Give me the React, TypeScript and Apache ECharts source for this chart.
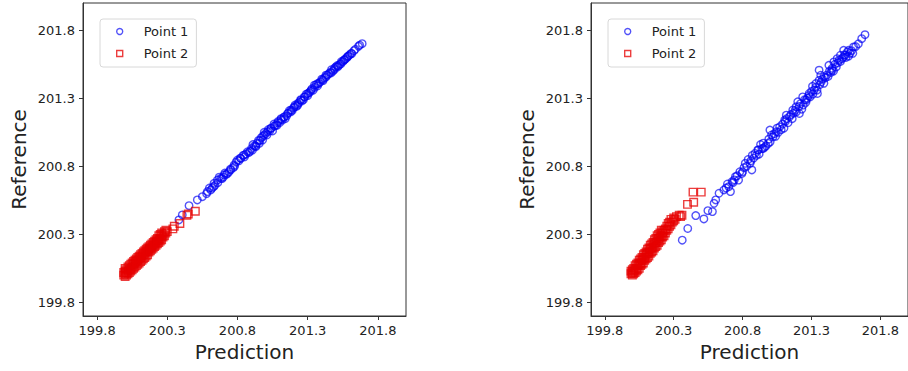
import React, { useEffect, useRef } from "react";
import * as echarts from "echarts";

const tickValues = [199.8, 200.3, 200.8, 201.3, 201.8];
const seriesNames = ["Point 1", "Point 2"];
const xAxisTitle = "Prediction";
const yAxisTitle = "Reference";

// Left panel: Point 1 (blue circles)
const leftPoint1: [number, number][] = [
  [201.688, 201.701], [201.662, 201.682], [201.614, 201.628], [201.586, 201.608],
  [201.562, 201.584], [201.538, 201.555], [201.514, 201.530], [201.490, 201.511],
  [201.467, 201.486], [201.431, 201.457], [201.407, 201.437], [201.371, 201.408],
  [201.348, 201.396], [201.324, 201.359], [201.300, 201.335], [201.276, 201.310],
  [201.252, 201.286], [201.229, 201.261], [201.205, 201.237], [201.181, 201.213],
  [201.157, 201.188], [201.133, 201.164], [201.110, 201.144], [201.086, 201.120],
  [201.062, 201.095], [201.038, 201.078], [201.014, 201.054], [200.990, 201.029],
  [200.979, 200.993], [200.955, 200.968], [200.931, 200.944], [200.907, 200.919],
  [200.871, 200.907], [200.848, 200.883], [200.824, 200.858], [200.800, 200.846],
  [200.776, 200.809], [200.752, 200.773], [200.729, 200.748], [200.705, 200.736],
  [200.681, 200.712], [200.657, 200.699], [200.633, 200.675], [200.610, 200.626],
  [200.586, 200.614], [200.550, 200.577], [200.514, 200.553], [200.455, 200.511],
  [200.407, 200.443], [200.383, 200.406],
  [200.62, 200.64], [200.64, 200.66], [200.70, 200.72], [200.74, 200.76],
  [200.78, 200.80], [200.85, 200.87], [200.88, 200.90], [200.92, 200.95],
  [200.96, 200.99], [201.00, 201.04], [201.03, 201.06], [201.07, 201.10],
  [201.12, 201.14], [201.15, 201.17], [201.19, 201.21], [201.23, 201.25],
  [201.27, 201.29], [201.31, 201.34], [201.35, 201.38], [201.39, 201.42],
  [201.44, 201.47], [201.48, 201.50], [201.52, 201.54], [201.55, 201.57],
  [201.59, 201.61], [201.63, 201.65],
  [200.58, 200.60], [200.60, 200.64], [200.63, 200.65], [200.66, 200.68],
  [200.67, 200.72], [200.69, 200.71], [200.71, 200.75], [200.72, 200.74],
  [200.75, 200.78], [200.77, 200.79], [200.79, 200.83], [200.81, 200.84],
  [200.82, 200.86], [200.84, 200.88], [200.86, 200.89], [200.89, 200.91],
  [200.90, 200.93], [200.91, 200.96], [200.93, 200.95], [200.94, 200.97],
  [200.95, 200.99], [200.97, 201.01], [200.98, 201.02], [200.99, 201.05],
  [201.01, 201.03], [201.02, 201.07], [201.04, 201.08], [201.05, 201.06],
  [201.06, 201.11], [201.08, 201.10], [201.09, 201.13], [201.10, 201.12],
  [201.11, 201.15], [201.13, 201.16], [201.14, 201.15], [201.16, 201.19],
  [201.17, 201.21], [201.18, 201.20], [201.20, 201.23], [201.21, 201.25],
  [201.22, 201.24], [201.24, 201.27], [201.25, 201.29], [201.26, 201.28],
  [201.28, 201.31], [201.29, 201.33], [201.30, 201.32], [201.32, 201.35],
  [201.33, 201.37], [201.34, 201.36], [201.36, 201.40], [201.37, 201.39],
  [201.38, 201.41], [201.40, 201.44], [201.41, 201.43], [201.42, 201.45],
  [201.43, 201.47], [201.45, 201.48], [201.46, 201.49], [201.47, 201.51],
  [201.49, 201.52], [201.50, 201.53], [201.51, 201.54], [201.53, 201.55],
  [201.54, 201.57], [201.56, 201.58], [201.57, 201.59], [201.58, 201.60],
  [201.60, 201.62], [201.61, 201.63], [201.64, 201.66], [201.67, 201.69],
];

// Left panel: Point 2 (red squares)
const leftPoint2: [number, number][] = [
  [199.99, 200.00], [199.99, 200.02],
  [200.00, 199.99], [200.00, 200.01], [200.00, 200.03], [200.00, 200.05],
  [200.01, 200.00], [200.01, 200.02], [200.01, 200.04],
  [200.02, 200.01], [200.02, 200.03], [200.02, 200.06],
  [200.03, 200.02], [200.03, 200.04], [200.03, 200.07],
  [200.04, 200.03], [200.04, 200.05], [200.04, 200.08],
  [200.05, 200.04], [200.05, 200.06], [200.05, 200.09],
  [200.06, 200.05], [200.06, 200.08], [200.06, 200.10],
  [200.07, 200.06], [200.07, 200.09], [200.07, 200.11],
  [200.08, 200.07], [200.08, 200.10], [200.08, 200.12],
  [200.09, 200.08], [200.09, 200.11], [200.09, 200.13],
  [200.10, 200.09], [200.10, 200.12], [200.10, 200.14],
  [200.11, 200.10], [200.11, 200.13], [200.11, 200.15],
  [200.12, 200.11], [200.12, 200.14], [200.12, 200.16],
  [200.13, 200.12], [200.13, 200.15], [200.13, 200.17],
  [200.14, 200.13], [200.14, 200.16], [200.14, 200.18],
  [200.15, 200.14], [200.15, 200.17], [200.15, 200.19],
  [200.16, 200.15], [200.16, 200.18], [200.16, 200.20],
  [200.17, 200.17], [200.17, 200.19], [200.17, 200.21],
  [200.18, 200.18], [200.18, 200.20], [200.18, 200.22],
  [200.19, 200.19], [200.19, 200.21], [200.19, 200.23],
  [200.20, 200.20], [200.20, 200.22], [200.20, 200.24],
  [200.21, 200.21], [200.21, 200.23], [200.21, 200.25],
  [200.22, 200.22], [200.22, 200.24], [200.22, 200.26],
  [200.23, 200.23], [200.23, 200.25], [200.23, 200.27],
  [200.24, 200.24], [200.24, 200.26], [200.24, 200.29],
  [200.25, 200.25], [200.25, 200.27], [200.25, 200.30],
  [200.26, 200.26], [200.26, 200.29], [200.26, 200.31],
  [200.27, 200.28], [200.27, 200.30],
  [200.28, 200.29], [200.28, 200.32],
  [200.29, 200.31], [200.29, 200.33],
  [200.30, 200.32],
  [200.34, 200.34], [200.35, 200.36], [200.39, 200.38], [200.44, 200.44],
  [200.45, 200.45], [200.50, 200.47],
];

// Right panel: Point 1 (blue circles)
const rightPoint1: [number, number][] = [
  [200.362, 200.257], [200.402, 200.343], [200.460, 200.438], [200.519, 200.413],
  [200.548, 200.474], [200.581, 200.467], [200.593, 200.528], [200.629, 200.602],
  [200.605, 200.553], [200.664, 200.626], [200.700, 200.650], [200.724, 200.687],
  [200.712, 200.614], [200.748, 200.724], [200.771, 200.699], [200.795, 200.748],
  [200.819, 200.822], [200.855, 200.822], [200.867, 200.773], [200.890, 200.895],
  [200.914, 200.919], [200.950, 200.931], [200.986, 200.968], [200.998, 201.066],
  [201.021, 201.017], [201.045, 201.054], [201.069, 201.090], [201.105, 201.139],
  [201.117, 201.176], [201.140, 201.164], [201.164, 201.213], [201.188, 201.237],
  [201.212, 201.188], [201.200, 201.274], [201.236, 201.310], [201.260, 201.286],
  [201.283, 201.335], [201.307, 201.388], [201.343, 201.335], [201.331, 201.408],
  [201.355, 201.432], [201.367, 201.469], [201.355, 201.506], [201.390, 201.457],
  [201.426, 201.542], [201.450, 201.506], [201.462, 201.567], [201.486, 201.591],
  [201.510, 201.616], [201.533, 201.652], [201.545, 201.616], [201.569, 201.652],
  [201.605, 201.677], [201.664, 201.738], [201.688, 201.767],
  [200.93, 200.96], [200.96, 200.94], [201.03, 201.04], [201.08, 201.07],
  [201.12, 201.15], [201.17, 201.19], [201.23, 201.22], [201.27, 201.30],
  [201.32, 201.36], [201.40, 201.45], [201.44, 201.49], [201.48, 201.53],
  [201.52, 201.59], [201.58, 201.63], [200.68, 200.64], [200.74, 200.70],
  [200.80, 200.76], [200.84, 200.85], [200.88, 200.86],
  [200.69, 200.67], [200.73, 200.68], [200.76, 200.73], [200.78, 200.76],
  [200.81, 200.79], [200.83, 200.80], [200.86, 200.84], [200.87, 200.88],
  [200.90, 200.88], [200.91, 200.92], [200.92, 200.89], [200.94, 200.93],
  [200.95, 200.97], [200.97, 200.95], [200.99, 201.00], [201.00, 200.98],
  [201.01, 201.03], [201.04, 201.02], [201.05, 201.08], [201.06, 201.05],
  [201.09, 201.11], [201.10, 201.08], [201.11, 201.13], [201.13, 201.12],
  [201.15, 201.18], [201.16, 201.15], [201.18, 201.21], [201.19, 201.20],
  [201.21, 201.24], [201.22, 201.26], [201.24, 201.25], [201.25, 201.29],
  [201.26, 201.27], [201.28, 201.32], [201.29, 201.31], [201.30, 201.35],
  [201.31, 201.33], [201.33, 201.38], [201.34, 201.36], [201.36, 201.40],
  [201.37, 201.42], [201.38, 201.44], [201.39, 201.41], [201.41, 201.47],
  [201.42, 201.46], [201.43, 201.50], [201.45, 201.52], [201.46, 201.50],
  [201.47, 201.55], [201.49, 201.56], [201.50, 201.58], [201.51, 201.57],
  [201.53, 201.60], [201.54, 201.62], [201.55, 201.60], [201.56, 201.64],
  [201.57, 201.61], [201.59, 201.65], [201.60, 201.63], [201.62, 201.68],
  [201.64, 201.70],
];

// Right panel: Point 2 (red squares)
const rightPoint2: [number, number][] = [
  [199.99, 200.01], [199.99, 200.03],
  [200.00, 200.00], [200.00, 200.02], [200.00, 200.04],
  [200.01, 200.01], [200.01, 200.03], [200.01, 200.05],
  [200.02, 200.02], [200.02, 200.04], [200.02, 200.07],
  [200.03, 200.03], [200.03, 200.05], [200.03, 200.08],
  [200.04, 200.04], [200.04, 200.07], [200.04, 200.09],
  [200.05, 200.05], [200.05, 200.08], [200.05, 200.11],
  [200.06, 200.07], [200.06, 200.09], [200.06, 200.12],
  [200.07, 200.08], [200.07, 200.11], [200.07, 200.13],
  [200.08, 200.09], [200.08, 200.12], [200.08, 200.15],
  [200.09, 200.11], [200.09, 200.13], [200.09, 200.16],
  [200.10, 200.12], [200.10, 200.15], [200.10, 200.17],
  [200.11, 200.13], [200.11, 200.16], [200.11, 200.19],
  [200.12, 200.14], [200.12, 200.17], [200.12, 200.20],
  [200.13, 200.16], [200.13, 200.19], [200.13, 200.22],
  [200.14, 200.17], [200.14, 200.20], [200.14, 200.23],
  [200.15, 200.18], [200.15, 200.21], [200.15, 200.24],
  [200.16, 200.20], [200.16, 200.23], [200.16, 200.26],
  [200.17, 200.21], [200.17, 200.24], [200.17, 200.27],
  [200.18, 200.22], [200.18, 200.25], [200.18, 200.29],
  [200.19, 200.24], [200.19, 200.27], [200.19, 200.30],
  [200.20, 200.25], [200.20, 200.28], [200.20, 200.31],
  [200.21, 200.26], [200.21, 200.29], [200.21, 200.33],
  [200.22, 200.28], [200.22, 200.31], [200.22, 200.32],
  [200.23, 200.29], [200.23, 200.33],
  [200.24, 200.31], [200.24, 200.34],
  [200.25, 200.33], [200.25, 200.36],
  [200.26, 200.34], [200.26, 200.38],
  [200.27, 200.36], [200.27, 200.39],
  [200.28, 200.37], [200.28, 200.41],
  [200.29, 200.39],
  [200.30, 200.40], [200.30, 200.42],
  [200.31, 200.41], [200.32, 200.43], [200.35, 200.43],
  [200.34, 200.44], [200.36, 200.44], [200.40, 200.52], [200.445, 200.536],
  [200.44, 200.61], [200.50, 200.61],
];

const FONT = "DejaVu Sans";
const BLUE = "rgba(0,0,245,0.85)";
const RED = "rgba(230,0,0,0.95)";
const FRAME = "#333333";
const TEXT = "#222222";

function makeXAxis(gridIndex: number) {
  return {
    type: "value",
    gridIndex,
    min: 199.7,
    max: 202.0,
    name: xAxisTitle,
    nameLocation: "middle",
    nameGap: 26,
    nameTextStyle: { fontFamily: FONT, fontSize: 20, color: TEXT },
    axisLine: { show: true, lineStyle: { color: FRAME, width: 1 } },
    axisTick: { show: true, length: 4, lineStyle: { color: FRAME }, customValues: tickValues },
    axisLabel: {
      show: true,
      margin: 8,
      fontFamily: FONT,
      fontSize: 13,
      color: TEXT,
      customValues: tickValues,
      formatter: (v: number) => v.toFixed(1),
    },
    splitLine: { show: false },
  };
}

function makeYAxis(gridIndex: number) {
  return {
    type: "value",
    gridIndex,
    min: 199.7,
    max: 202.0,
    name: yAxisTitle,
    nameLocation: "middle",
    nameGap: 54,
    nameRotate: 90,
    nameTextStyle: { fontFamily: FONT, fontSize: 20, color: TEXT },
    axisLine: { show: true, lineStyle: { color: FRAME, width: 1 } },
    axisTick: { show: true, length: 4, lineStyle: { color: FRAME }, customValues: tickValues },
    axisLabel: {
      show: true,
      margin: 8,
      fontFamily: FONT,
      fontSize: 13,
      color: TEXT,
      customValues: tickValues,
      formatter: (v: number) => v.toFixed(1),
    },
    splitLine: { show: false },
  };
}

function makeLegend(left: number) {
  return {
    left,
    top: 19,
    orient: "vertical",
    itemWidth: 6,
    itemHeight: 6,
    itemGap: 7,
    padding: [5, 8, 6, 16],
    backgroundColor: "#ffffff",
    borderColor: "#d8d8d8",
    borderWidth: 1,
    borderRadius: 3,
    selectedMode: false,
    textStyle: {
      fontFamily: FONT,
      fontSize: 13,
      color: TEXT,
      lineHeight: 15,
      padding: [0, 0, 0, 16],
    },
    data: [
      {
        name: seriesNames[0],
        icon: "circle",
        itemStyle: { color: "transparent", borderColor: BLUE, borderWidth: 1.4 },
      },
      {
        name: seriesNames[1],
        icon: "rect",
        itemStyle: { color: "transparent", borderColor: RED, borderWidth: 1.4 },
      },
    ],
  };
}

function scatter(name: string, data: [number, number][], idx: number, symbol: string, color: string) {
  return {
    type: "scatter",
    name,
    xAxisIndex: idx,
    yAxisIndex: idx,
    data,
    symbol,
    symbolSize: 7.5,
    itemStyle: { color: "transparent", borderColor: color, borderWidth: 1.4 },
    emphasis: { disabled: true },
  };
}

export default function App() {
  const ref = useRef<HTMLDivElement>(null);
  useEffect(() => {
    if (!ref.current) return;
    const chart = echarts.init(ref.current, undefined, { renderer: "svg" });
    chart.setOption({
      animation: false,
      backgroundColor: "#ffffff",
      grid: [
        { left: 83, top: 3, width: 323, height: 313, show: true, borderColor: FRAME, borderWidth: 1, backgroundColor: "transparent" },
        { left: 591, top: 3, width: 323, height: 313, show: true, borderColor: FRAME, borderWidth: 1, backgroundColor: "transparent" },
      ],
      xAxis: [makeXAxis(0), makeXAxis(1)],
      yAxis: [makeYAxis(0), makeYAxis(1)],
      legend: [makeLegend(100), makeLegend(608)],
      series: [
        scatter(seriesNames[0], leftPoint1, 0, "circle", BLUE),
        scatter(seriesNames[1], leftPoint2, 0, "rect", RED),
        scatter(seriesNames[0], rightPoint1, 1, "circle", BLUE),
        scatter(seriesNames[1], rightPoint2, 1, "rect", RED),
      ],
    });
    return () => chart.dispose();
  }, []);
  return (
    <div
      ref={ref}
      style={{ position: "fixed", left: 0, top: 0, width: 908, height: 371 }}
    />
  );
}
